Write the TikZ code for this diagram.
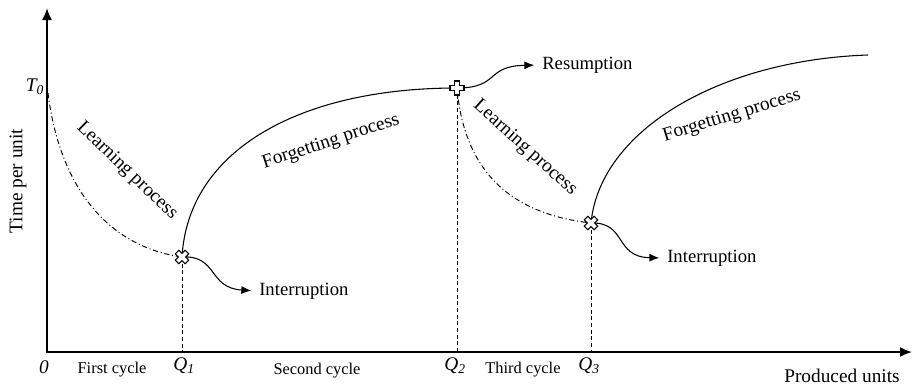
\documentclass[tikz,border=0pt]{standalone}
\usepackage{fontspec}
\setmainfont{Liberation Serif}
\usetikzlibrary{arrows.meta}

\tikzset{
  axislbl/.style={inner sep=0.75pt,font=\fontsize{14.5}{16}\selectfont},
  cyclelbl/.style={inner sep=0.75pt,font=\fontsize{12.3}{14}\selectfont},
  proclbl/.style={inner sep=0.75pt,font=\fontsize{14.5}{16}\selectfont},
  eventlbl/.style={inner sep=0.75pt,anchor=west,font=\fontsize{14}{16}\selectfont},
  learnline/.style={line width=0.7pt,dash pattern={on 4pt off 2pt on 0.8pt off 2pt}},
  forgetline/.style={line width=0.8pt},
  dropline/.style={line width=0.6pt,dash pattern={on 3pt off 2pt}},
  eventarrow/.style={line width=0.8pt,-{Latex[length=7.5pt,width=6pt]},shorten >=5pt},
  pics/plusmark/.style={code={
    \draw[fill=white,line width=0.8pt] (-2.5,-7) -- (2.5,-7) -- (2.5,-2.5) -- (7,-2.5) -- (7,2.5) -- (2.5,2.5) -- (2.5,7)
      -- (-2.5,7) -- (-2.5,2.5) -- (-7,2.5) -- (-7,-2.5) -- (-2.5,-2.5) -- cycle;}}
}

\begin{document}
\begin{tikzpicture}[x=0.75pt,y=0.75pt,yscale=-1,xscale=1]
\path[use as bounding box] (0,0) rectangle (912,387);

%Points
\coordinate (O) at (47,352);
\coordinate (ytop) at (47,8);
\coordinate (xend) at (912,352);
\coordinate (T0) at (48,93);
\coordinate (I1) at (182,257);
\coordinate (R2) at (457,88);
\coordinate (I3) at (591,223);
\coordinate (F3) at (868,55);
\coordinate (Q1) at (182,352);
\coordinate (Q2) at (457,352);
\coordinate (Q3) at (591,352);

%Axes
\draw[line width=1.4pt,{Latex[length=9pt,width=7.5pt]}-{Latex[length=9pt,width=7.5pt]}] (ytop) -- (O) -- (xend);

%Drop lines
\draw[dropline] (I1) -- (Q1);
\draw[dropline] (R2) -- (Q2);
\draw[dropline] (I3) -- (Q3);

%Curve Lines: learning
\draw[learnline] (T0) .. controls (60,190) and (110,247) .. (I1);
\draw[learnline] (R2) .. controls (465,180) and (520,215) .. (I3);

%Curve Lines: forgetting
\draw[forgetline] (I1) .. controls (188,150) and (300,88) .. (R2);
\draw[forgetline] (I3) .. controls (600,130) and (720,60) .. (F3);

% Text Node
\node[eventlbl] (intr1) at (258,291) {Interruption};
\node[eventlbl] (intr3) at (666,258) {Interruption};
\node[eventlbl] (resum) at (541,65) {Resumption};

%Curve Lines: events
\draw[eventarrow] (I1) .. controls (218,255) and (208,288) .. (intr1.west);
\draw[eventarrow] (I3) .. controls (627,222) and (614,257) .. (intr3.west);
\draw[eventarrow] (R2) .. controls (500,88) and (485,66) .. (resum.west);

%Marks
\pic[rotate=45] at (I1) {plusmark};
\pic at (R2) {plusmark};
\pic[rotate=45] at (I3) {plusmark};

% Text Node
\node[proclbl,rotate=-44] (learn1) at (127,171) {Learning process};
\node[proclbl,rotate=-42] (learn2) at (525,148) {Learning process};
\node[proclbl,rotate=18] (forget1) at (331,142) {Forgetting process};
\node[proclbl,rotate=17] (forget3) at (732,116) {Forgetting process};

% Text Node
\node[axislbl,rotate=90] (ylbl) at (18,181) {Time per unit};
\node[axislbl] (xlbl) at (842,376) {Produced units};
\node[axislbl] (t0lbl) at (35,87) {\textit{T\textsubscript{0}}};
\node[axislbl] (olbl) at (44,367) {\textit{0}};
\node[axislbl] (q1lbl) at (184,366) {\textit{Q\textsubscript{1}}};
\node[axislbl] (q2lbl) at (455,366) {\textit{Q\textsubscript{2}}};
\node[axislbl] (q3lbl) at (589,366) {\textit{Q\textsubscript{3}}};
\node[cyclelbl] (c1lbl) at (112,370) {First cycle};
\node[cyclelbl] (c2lbl) at (317,371) {Second cycle};
\node[cyclelbl] (c3lbl) at (523,370) {Third cycle};

\end{tikzpicture}
\end{document}
